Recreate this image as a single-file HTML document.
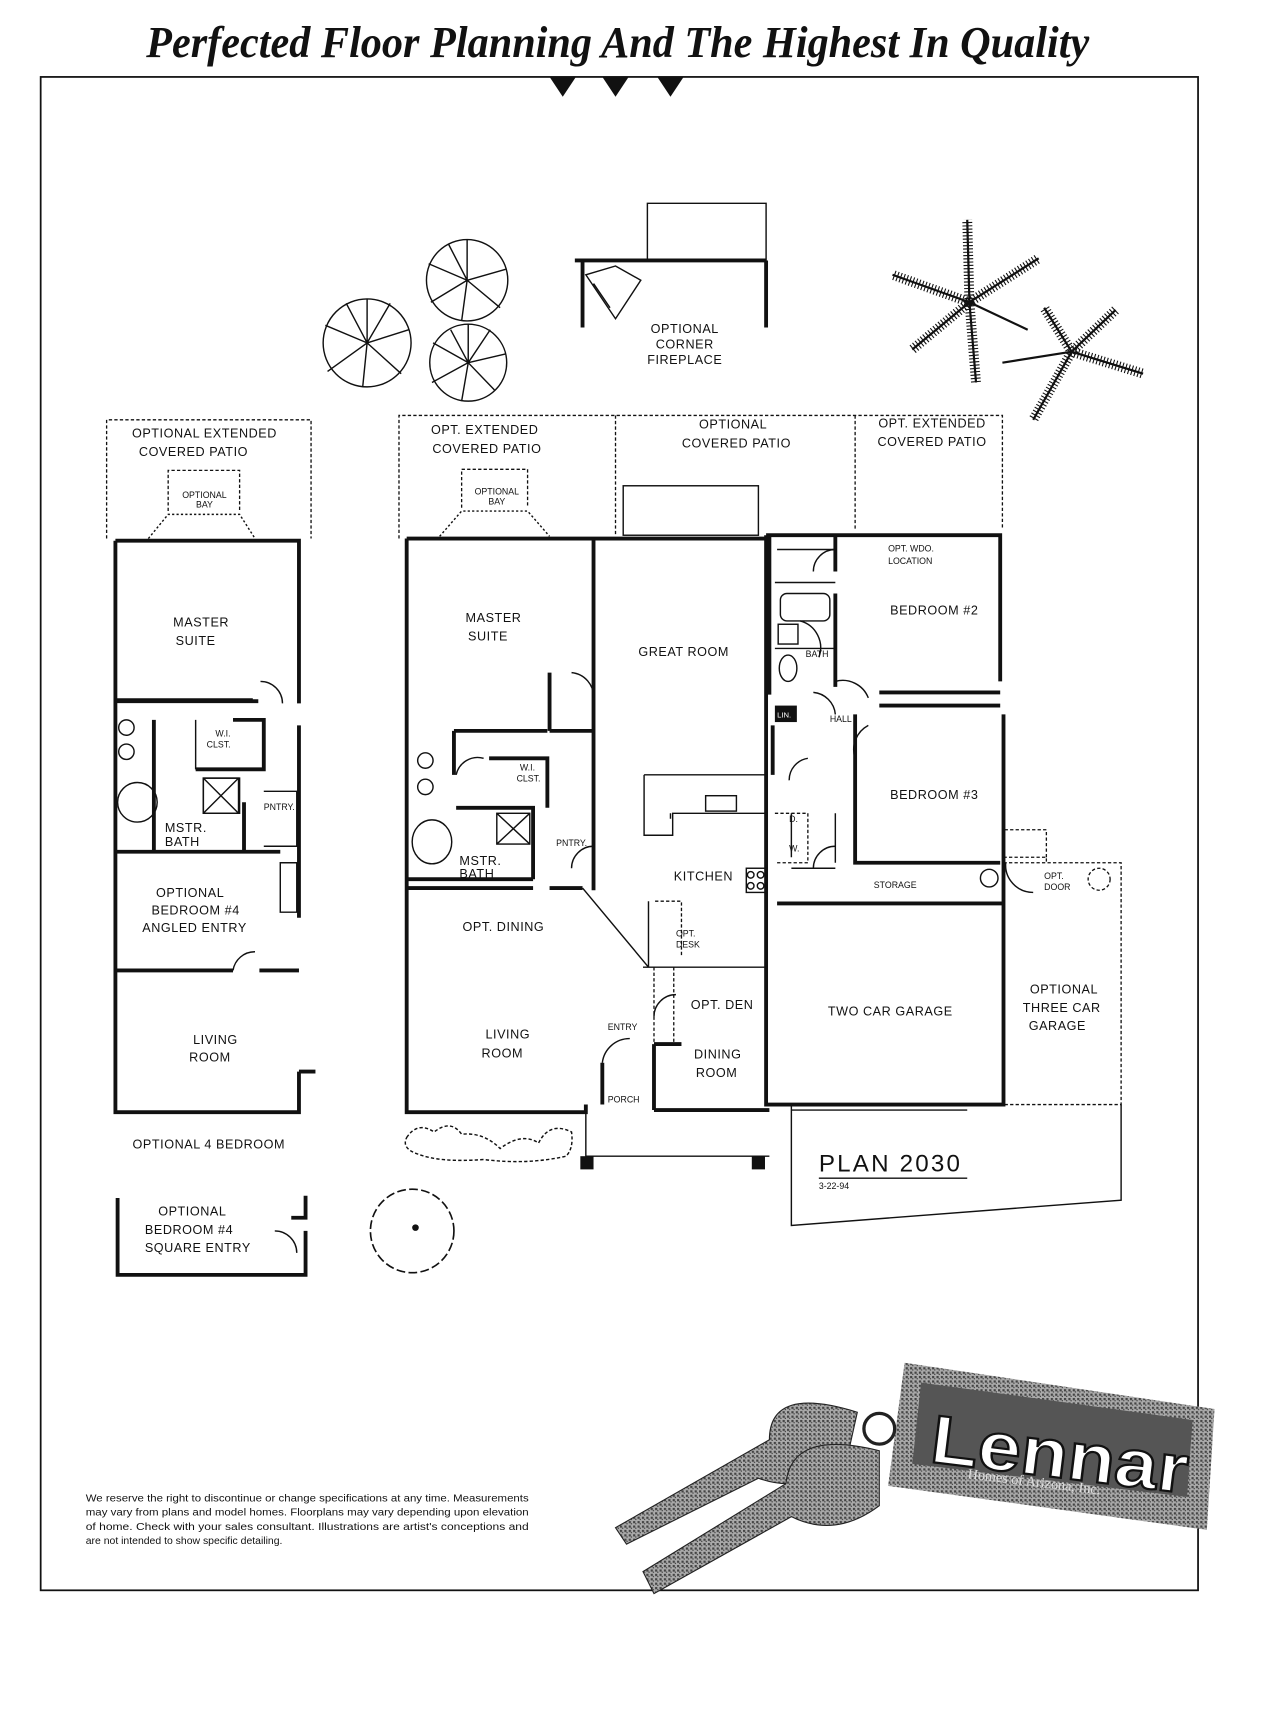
<!DOCTYPE html>
<html><head><meta charset="utf-8"><style>
html,body{margin:0;padding:0;background:#fff}
svg{display:block}
.l{font-family:"Liberation Sans",sans-serif;font-size:11.5px;fill:#111;letter-spacing:0.5px}
.s{font-family:"Liberation Sans",sans-serif;font-size:8px;fill:#111}
.w{stroke:#111;stroke-width:3.5;fill:none}
.t{stroke:#111;stroke-width:1.3;fill:none}
.d{stroke:#111;stroke-width:1.2;fill:none;stroke-dasharray:3 2}
</style></head><body>
<svg width="1264" height="1720" viewBox="0 0 1150 1565" preserveAspectRatio="none" xmlns="http://www.w3.org/2000/svg">
<rect width="1150" height="1565" fill="#fff"/>
<text x="133" y="52" font-family="Liberation Serif,serif" font-weight="bold" font-style="italic" font-size="40" textLength="858" lengthAdjust="spacingAndGlyphs" fill="#111">Perfected Floor Planning And The Highest In Quality</text>
<rect x="37" y="70" width="1053" height="1377" fill="none" stroke="#111" stroke-width="1.6"/>
<polygon points="500,70 524,70 512,88" fill="#111"/><polygon points="548,70 572,70 560,88" fill="#111"/><polygon points="598,70 622,70 610,88" fill="#111"/>

<!-- fireplace -->
<path class="t" d="M589,237 V185 H697 V237"/>
<path class="w" d="M523,237 H697 M697,237 V298 M530,237 V298"/>
<path class="t" d="M533,250 L560,290 L583,255 L560,242 Z M540,258 L555,280"/>
<text class="l" x="623" y="303" text-anchor="middle">OPTIONAL</text><text class="l" x="623" y="317" text-anchor="middle">CORNER</text><text class="l" x="623" y="331" text-anchor="middle">FIREPLACE</text>

<!-- trees -->
<g class="t">
<circle cx="334" cy="312" r="40"/><circle cx="425" cy="255" r="37"/><circle cx="426" cy="330" r="35"/>
<path d="M334,312 L334,272 M334,312 L372,300 M334,312 L365,340 M334,312 L330,352 M334,312 L298,338 M334,312 L296,296 M334,312 L315,276 M334,312 L355,276 M425,255 L425,218 M425,255 L460,245 M425,255 L455,280 M425,255 L420,292 M425,255 L392,275 M425,255 L390,240 M425,255 L408,222 M426,330 L426,295 M426,330 L460,322 M426,330 L450,355 M426,330 L420,365 M426,330 L393,348 M426,330 L394,312 M426,330 L410,300 M426,330 L446,300"/>
</g>
<!-- palms -->
<g stroke="#111" stroke-width="2" fill="none">
<path d="M882,275 L880,200 M882,275 L945,235 M882,275 L812,250 M882,275 L830,318 M882,275 L888,348 M882,275 L935,300"/>
<path d="M975,320 L1015,282 M975,320 L950,280 M975,320 L940,382 M975,320 L1040,340 M975,320 L912,330"/>
</g>
<g stroke="#111" stroke-width="0.8" stroke-dasharray="1 2" fill="none">
<path d="M882,275 L880,200 M882,275 L945,235 M882,275 L812,250 M882,275 L830,318 M882,275 L888,348 M975,320 L1015,282 M975,320 L940,382 M975,320 L1040,340 M975,320 L950,280" stroke-width="9"/>
</g>

<!-- LEFT alt plan -->
<path class="d" d="M97,490 V382 H283 V490"/>
<path class="d" d="M153,465 V428 H218 V465"/>
<path class="t" d="M135,490 L153,468 H218 L232,490" stroke-dasharray="2 2" stroke-width="2.5"/>
<text class="l" x="186" y="398" text-anchor="middle">OPTIONAL EXTENDED</text><text class="l" x="176" y="415" text-anchor="middle">COVERED PATIO</text>
<text class="s" x="186" y="453" text-anchor="middle">OPTIONAL</text><text class="s" x="186" y="462" text-anchor="middle">BAY</text>
<path class="w" d="M105,492 H272 V640 M105,492 V1012 H272 V975 M272,660 V835 M105,638 H235 M140,655 V775 M105,775 H255 M105,883 H212 M236,883 H272 M222,730 V775 M212,655 H240 V700 H178 M272,975 H287"/>
<path class="t" d="M105,636 H230 M178,655 V700 M185,708 H218 V740 H185 Z M240,720 H270 V770 H240 M255,785 H270 V830 H255 Z M237,620 A20,20 0 0 1 257,640 M212,883 A20,20 0 0 1 232,866"/>
<circle class="t" cx="115" cy="662" r="7"/><circle class="t" cx="115" cy="684" r="7"/><ellipse class="t" cx="125" cy="730" rx="18" ry="18"/>
<text class="l" x="183" y="570" text-anchor="middle">MASTER</text><text class="l" x="178" y="587" text-anchor="middle">SUITE</text>
<text class="s" x="196" y="670">W.I.</text><text class="s" x="188" y="680">CLST.</text><text class="s" x="240" y="737">PNTRY.</text>
<text class="l" x="150" y="757">MSTR.</text><text class="l" x="150" y="770">BATH</text>
<text class="l" x="173" y="816" text-anchor="middle">OPTIONAL</text><text class="l" x="178" y="832" text-anchor="middle">BEDROOM #4</text><text class="l" x="177" y="848" text-anchor="middle">ANGLED ENTRY</text>
<text class="l" x="196" y="950" text-anchor="middle">LIVING</text><text class="l" x="191" y="966" text-anchor="middle">ROOM</text>
<text class="l" x="190" y="1045" text-anchor="middle">OPTIONAL 4 BEDROOM</text>
<path class="w" d="M107,1090 V1160 H278 V1120 M278,1088 V1108 H265 M107,1090 V1092"/>
<path class="t" d="M250,1120 A20,20 0 0 1 270,1140"/>
<text class="l" x="175" y="1106" text-anchor="middle">OPTIONAL</text><text class="l" x="172" y="1123" text-anchor="middle">BEDROOM #4</text><text class="l" x="180" y="1139" text-anchor="middle">SQUARE ENTRY</text>
<!-- round tree -->
<circle cx="375" cy="1120" r="38" fill="none" stroke="#111" stroke-width="1.5" stroke-dasharray="8 3"/><circle cx="378" cy="1117" r="3" fill="#111"/>

<!-- MAIN plan patios -->
<path class="d" d="M363,490 V378 H912 V480 M560,378 V487 M778,378 V483"/>
<path class="d" d="M420,462 V427 H480 V462"/>
<path class="t" d="M400,488 L420,465 H480 L500,488" stroke-dasharray="2 2" stroke-width="2.5"/>
<rect class="t" x="567" y="442" width="123" height="45"/>
<text class="l" x="441" y="395" text-anchor="middle">OPT. EXTENDED</text><text class="l" x="443" y="412" text-anchor="middle">COVERED PATIO</text>
<text class="s" x="452" y="450" text-anchor="middle">OPTIONAL</text><text class="s" x="452" y="459" text-anchor="middle">BAY</text>
<text class="l" x="667" y="390" text-anchor="middle">OPTIONAL</text><text class="l" x="670" y="407" text-anchor="middle">COVERED PATIO</text>
<text class="l" x="848" y="389" text-anchor="middle">OPT. EXTENDED</text><text class="l" x="848" y="406" text-anchor="middle">COVERED PATIO</text>

<!-- main walls -->
<path class="w" d="M370,490 H697 M697,487 H910 V620 M370,490 V1012 H533 V1005 M540,490 V665 M500,665 H540 M500,612 V665 M697,487 V1005 H913 V650 M800,630 H910 M800,642 H910 M778,650 V785 H910 M707,822 H913 M595,1010 H700 M595,950 V1010 M595,950 H620 M548,967 V1005 M370,808 H485 M500,808 H530 M540,665 V810 M700,487 V632 M703,660 V705 M760,487 V520 M760,540 V625"/>
<path class="w" d="M413,665 H498 M413,665 V705 M445,690 H498 V735 M415,735 H485 V800 M370,800 H485"/>
<path class="t" d="M530,808 L590,880 M585,880 H697 M590,820 V880 M586,705 V760 H612 V740 H697 M586,705 H697 M610,740 V745"/>
<path class="t" d="M707,500 H760 M705,530 H760 M705,590 H760 M720,790 H760 M720,740 V780 M760,740 V785"/>
<rect class="t" x="642" y="724" width="28" height="14"/><rect class="t" x="679" y="790" width="18" height="22"/>
<circle class="t" cx="683" cy="796" r="3"/><circle class="t" cx="692" cy="796" r="3"/><circle class="t" cx="683" cy="806" r="3"/><circle class="t" cx="692" cy="806" r="3"/>
<path class="d" d="M596,820 H620 V870 M705,740 H735 V785 H705"/>
<rect class="t" x="710" y="540" width="45" height="25" rx="6"/><rect class="t" x="708" y="568" width="18" height="18"/><ellipse class="t" cx="717" cy="608" rx="8" ry="12"/>
<rect x="705" y="642" width="20" height="15" fill="#111"/><text x="707" y="653" font-family="Liberation Sans" font-size="7" fill="#fff">LIN.</text>
<path class="t" d="M728,565 A25,25 0 0 1 745,598 M760,620 A25,25 0 0 1 790,635 M740,630 A22,22 0 0 1 760,650 M778,690 A25,25 0 0 1 790,660 M520,612 A22,22 0 0 1 540,635 M415,705 A20,20 0 0 1 440,690 M520,790 A20,20 0 0 1 540,770 M740,790 A20,20 0 0 1 760,770 M718,710 A20,20 0 0 1 735,690 M740,520 A20,20 0 0 1 760,500 M548,967 A25,25 0 0 1 573,945 M595,925 A20,20 0 0 1 615,905"/>
<path class="d" d="M595,880 V950 M613,880 V950"/>
<circle class="t" cx="387" cy="692" r="7"/><circle class="t" cx="387" cy="716" r="7"/><ellipse class="t" cx="393" cy="766" rx="18" ry="20"/>
<rect class="t" x="452" y="740" width="30" height="28"/><path class="t" d="M452,740 L482,768 M482,740 L452,768"/>
<rect class="t" x="185" y="708" width="32" height="32"/><path class="t" d="M185,708 L217,740 M217,708 L185,740"/>
<circle class="t" cx="900" cy="799" r="8"/>
<!-- optional garage -->
<path class="d" d="M913,780 H952 V785 M913,785 H1020 V1005 H913 M952,780 V755 H913"/>
<path class="t" d="M915,785 A25,25 0 0 0 940,812"/><circle class="d" cx="1000" cy="800" r="10"/>
<!-- driveway -->
<path class="t" d="M720,1005 V1115 L1020,1092 V1005 M720,1010 H880"/>
<path class="t" d="M533,1018 V1052 H700 M533,1005 V1052"/>
<rect x="528" y="1052" width="12" height="12" fill="#111"/><rect x="684" y="1052" width="12" height="12" fill="#111"/>
<path class="t" d="M370,1035 Q380,1020 395,1030 Q410,1018 420,1032 Q440,1030 455,1045 Q475,1030 490,1040 Q500,1020 520,1030 Q522,1045 515,1052 Q480,1060 440,1055 Q400,1058 380,1050 Q365,1045 370,1035 Z" stroke-dasharray="3 2" stroke-width="2"/>
<path class="t" d="M745,1072 H880"/>
<text x="745" y="1066" font-family="Liberation Sans,sans-serif" font-size="22" fill="#111" letter-spacing="2">PLAN 2030</text>
<text class="s" x="745" y="1082" font-size="6">3-22-94</text>

<!-- labels main -->
<text class="l" x="449" y="566" text-anchor="middle">MASTER</text><text class="l" x="444" y="583" text-anchor="middle">SUITE</text>
<text class="l" x="622" y="597" text-anchor="middle">GREAT ROOM</text>
<text class="s" x="473" y="701">W.I.</text><text class="s" x="470" y="711">CLST.</text>
<text class="l" x="418" y="787">MSTR.</text><text class="l" x="418" y="799">BATH</text>
<text class="s" x="506" y="770">PNTRY.</text>
<text class="l" x="640" y="801" text-anchor="middle">KITCHEN</text>
<text class="s" x="615" y="852">OPT.</text><text class="s" x="615" y="862">DESK</text>
<text class="l" x="458" y="847" text-anchor="middle">OPT. DINING</text>
<text class="l" x="462" y="945" text-anchor="middle">LIVING</text><text class="l" x="457" y="962" text-anchor="middle">ROOM</text>
<text class="s" x="553" y="937">ENTRY</text><text class="s" x="553" y="1003">PORCH</text>
<text class="l" x="657" y="918" text-anchor="middle">OPT. DEN</text>
<text class="l" x="653" y="963" text-anchor="middle">DINING</text><text class="l" x="652" y="980" text-anchor="middle">ROOM</text>
<text class="s" x="808" y="502">OPT. WDO.</text><text class="s" x="808" y="513">LOCATION</text>
<text class="l" x="850" y="559" text-anchor="middle">BEDROOM #2</text>
<text class="s" x="733" y="598">BATH</text>
<text class="s" x="755" y="657">HALL</text>
<text class="s" x="718" y="748">D.</text><text class="s" x="718" y="775">W.</text>
<text class="l" x="850" y="727" text-anchor="middle">BEDROOM #3</text>
<text class="s" x="795" y="808">STORAGE</text>
<text class="s" x="950" y="800">OPT.</text><text class="s" x="950" y="810">DOOR</text>
<text class="l" x="810" y="924" text-anchor="middle">TWO CAR GARAGE</text>
<text class="l" x="968" y="904" text-anchor="middle">OPTIONAL</text><text class="l" x="966" y="921" text-anchor="middle">THREE CAR</text><text class="l" x="962" y="937" text-anchor="middle">GARAGE</text>

<!-- disclaimer -->
<g font-family="Liberation Sans,sans-serif" font-size="9.5" fill="#111">
<text x="78" y="1366" textLength="403" lengthAdjust="spacingAndGlyphs">We reserve the right to discontinue or change specifications at any time. Measurements</text>
<text x="78" y="1379" textLength="403" lengthAdjust="spacingAndGlyphs">may vary from plans and model homes. Floorplans may vary depending upon elevation</text>
<text x="78" y="1392" textLength="403" lengthAdjust="spacingAndGlyphs">of home. Check with your sales consultant. Illustrations are artist's conceptions and</text>
<text x="78" y="1405">are not intended to show specific detailing.</text>
</g>

<!-- keys -->
<defs><pattern id="g" width="4" height="4" patternUnits="userSpaceOnUse"><rect width="4" height="4" fill="#aaa"/><rect width="2" height="2" fill="#444"/><rect x="2" y="2" width="1" height="1" fill="#222"/></pattern></defs>
<polygon points="823,1240 1105,1282 1098,1392 808,1352" fill="url(#g)"/>
<polygon points="838,1258 1085,1292 1080,1362 830,1332" fill="#555"/>
<text x="845" y="1330" font-family="Liberation Sans,sans-serif" font-weight="bold" font-size="62" fill="#fff" stroke="#111" stroke-width="2" transform="rotate(7 845 1330)" textLength="235" lengthAdjust="spacingAndGlyphs">Lennar</text>
<text x="880" y="1345" font-family="Liberation Serif,serif" font-size="13" fill="#ddd" transform="rotate(7 880 1345)">Homes of Arizona, Inc.</text>
<path d="M780,1285 Q700,1260 700,1310 L560,1390 L570,1405 L690,1345 Q730,1360 770,1330 Z" fill="url(#g)" stroke="#222"/>
<path d="M800,1320 Q720,1300 715,1350 L585,1430 L595,1450 L720,1380 Q760,1400 800,1370 Z" fill="url(#g)" stroke="#222"/>
<circle cx="800" cy="1300" r="14" fill="none" stroke="#222" stroke-width="3"/>
</svg>
</body></html>
